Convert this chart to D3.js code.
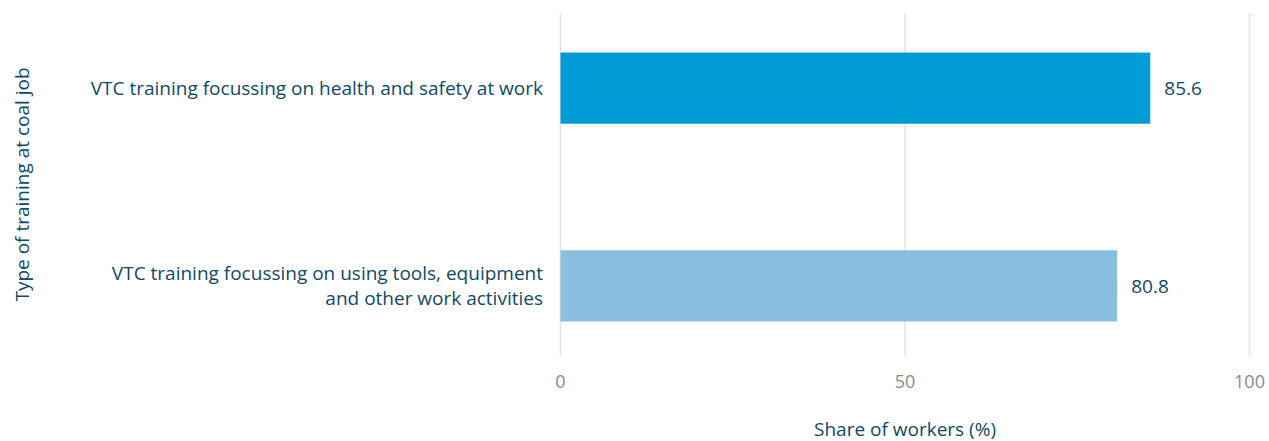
<!DOCTYPE html>
<html>
<head>
<meta charset="utf-8">
<script src="https://cdn.jsdelivr.net/npm/d3@7"></script>
<style>
  html, body { margin: 0; padding: 0; background: #fff; }
  svg { display: block; font-family: "Open Sans", Roboto, sans-serif; }
</style>
</head>
<body>
<svg id="chart" width="1269" height="441"></svg>
<script>
// Training types (category axis), shares and tick values
const categories = [
  ["VTC training focussing on health and safety at work"],
  ["VTC training focussing on using tools, equipment", "and other work activities"]
];
const shares = [85.6, 80.8];
const barColors = ["#039bd6", "#88bfde"];
const xTicks = [0, 50, 100];
const xTitle = "Share of workers (%)";
const yTitle = "Type of training at coal job";

const svg = d3.select("#chart");
const W = 1269, H = 441;
const plotTop = 13, plotBottom = 356;

const x = d3.scaleLinear().domain([0, 100]).range([560.5, 1249.5]);
const y = d3.scaleBand()
  .domain(d3.range(categories.length))
  .range([15, 359])
  .paddingInner(0.64)
  .paddingOuter(0.19);

const textColor = "#0e4a68";
const fontSize = 19;

// vertical grid lines
svg.append("g").selectAll("line").data(xTicks).join("line")
  .attr("x1", d => x(d)).attr("x2", d => x(d))
  .attr("y1", plotTop).attr("y2", plotBottom)
  .attr("stroke", "#e2e2e2").attr("stroke-width", 1.5);

// x tick labels
svg.append("g").selectAll("text").data(xTicks).join("text")
  .attr("x", d => x(d)).attr("y", 382)
  .attr("dy", "0.35em")
  .attr("text-anchor", "middle")
  .attr("fill", "#8a8a8a").attr("font-size", 18)
  .text(d => d);

// bars
svg.append("g").selectAll("rect").data(shares).join("rect")
  .attr("x", x(0))
  .attr("y", (d, i) => y(i))
  .attr("width", d => x(d) - x(0))
  .attr("height", y.bandwidth())
  .attr("fill", (d, i) => barColors[i]);

// value labels
svg.append("g").selectAll("text").data(shares).join("text")
  .attr("x", d => x(d) + 14)
  .attr("y", (d, i) => y(i) + y.bandwidth() / 2)
  .attr("dy", "0.35em")
  .attr("fill", textColor).attr("font-size", fontSize)
  .text(d => d.toFixed(1));

// category labels
const catG = svg.append("g").selectAll("text").data(categories).join("text")
  .attr("text-anchor", "end")
  .attr("fill", textColor).attr("font-size", fontSize)
  .attr("transform", (d, i) => {
    const cy = y(i) + y.bandwidth() / 2;
    return `translate(543, ${cy - (d.length - 1) * 12.5})`;
  });
catG.selectAll("tspan").data(d => d).join("tspan")
  .attr("x", 0)
  .attr("dy", (d, i) => i === 0 ? "0.35em" : 25)
  .text(d => d);

// axis titles
svg.append("text")
  .attr("x", (x(0) + x(100)) / 2).attr("y", 429)
  .attr("dy", "0.35em")
  .attr("text-anchor", "middle")
  .attr("fill", textColor).attr("font-size", fontSize)
  .text(xTitle);

svg.append("text")
  .attr("transform", `translate(22, ${(plotTop + plotBottom) / 2}) rotate(-90)`)
  .attr("dy", "0.35em")
  .attr("text-anchor", "middle")
  .attr("fill", textColor).attr("font-size", fontSize)
  .text(yTitle);
</script>
</body>
</html>
